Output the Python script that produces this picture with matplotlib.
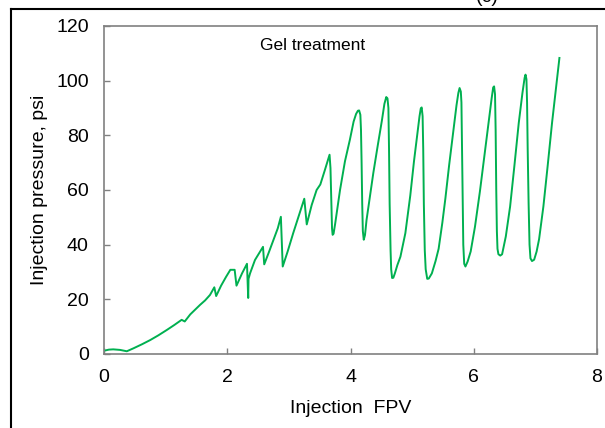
import matplotlib.pyplot as plt
from matplotlib.lines import Line2D

plt.rcParams['font.family'] = ['Liberation Sans', 'DejaVu Sans']

# injection FPV vs injection pressure (psi)
fpv = [0.00, 0.08, 0.15, 0.26, 0.37, 0.48, 0.62, 0.75, 0.88, 1.02,
       1.14, 1.26, 1.31, 1.40, 1.50, 1.56, 1.64, 1.72, 1.79, 1.82,
       1.90, 1.98, 2.05, 2.12, 2.15, 2.24, 2.32, 2.34, 2.345, 2.37,
       2.45, 2.52, 2.58, 2.60, 2.68, 2.75, 2.82, 2.87, 2.90, 2.98,
       3.07, 3.16, 3.25, 3.29, 3.37, 3.45, 3.51, 3.58, 3.64, 3.66,
       3.675, 3.69, 3.70, 3.71, 3.725, 3.75, 3.83, 3.91, 3.99, 4.05,
       4.09, 4.12, 4.14, 4.16, 4.17, 4.18, 4.19, 4.20, 4.215, 4.235,
       4.26, 4.37, 4.44, 4.51, 4.55, 4.58, 4.60, 4.615, 4.625, 4.635,
       4.65, 4.66, 4.675, 4.695, 4.72, 4.76, 4.81, 4.89, 4.94, 4.97,
       5.03, 5.08, 5.12, 5.14, 5.155, 5.17, 5.18, 5.19, 5.205, 5.22,
       5.245, 5.27, 5.32, 5.38, 5.43, 5.49, 5.54, 5.60, 5.66, 5.72,
       5.75, 5.77, 5.79, 5.80, 5.81, 5.82, 5.83, 5.845, 5.865, 5.90,
       5.95, 6.02, 6.10, 6.17, 6.24, 6.29, 6.315, 6.33, 6.345, 6.355,
       6.365, 6.375, 6.385, 6.40, 6.43, 6.46, 6.52, 6.59, 6.66, 6.73,
       6.79, 6.825, 6.84, 6.855, 6.865, 6.875, 6.89, 6.905, 6.92, 6.945,
       6.98, 7.02, 7.06, 7.13, 7.20, 7.27, 7.33, 7.39]
pressure = [1.2, 1.6, 1.7, 1.5, 1.0, 2.1, 3.6, 5.1, 6.8, 8.8,
            10.6, 12.5, 11.9, 14.5, 16.7, 18.0, 19.6, 21.6, 24.4, 21.2,
            25.0, 28.2, 30.8, 30.8, 25.0, 29.5, 33.0, 20.5, 27.5, 29.5,
            34.4, 37.0, 39.2, 32.8, 37.5, 41.8, 46.0, 50.2, 32.0, 37.5,
            44.2, 50.5, 56.8, 47.4, 54.5, 60.0, 62.0, 67.0, 71.5, 72.9,
            68.0, 55.0, 46.0, 43.6, 44.0, 47.5, 60.0, 70.5, 78.4, 85.0,
            87.8, 89.0, 89.1, 87.5, 82.0, 70.0, 55.0, 45.0, 41.8, 43.5,
            49.0, 66.2, 76.0, 85.5, 91.5, 94.0, 93.5, 90.0, 75.0, 55.0,
            38.0, 31.0, 27.8, 27.9, 29.5, 32.5, 35.6, 44.2, 52.7, 58.0,
            70.5, 79.6, 87.0, 89.8, 90.2, 87.0, 75.0, 55.0, 38.0, 31.0,
            27.5, 27.6, 29.5, 34.0, 38.5, 48.0, 57.0, 69.0, 80.0, 91.0,
            95.5, 97.3, 96.0, 92.0, 75.0, 55.0, 40.0, 33.0, 32.0, 33.8,
            37.5, 46.6, 59.5, 72.0, 84.5, 93.5, 97.5, 97.9, 95.0, 82.0,
            60.0, 45.0, 38.5, 36.5, 36.0, 36.5, 43.0, 54.0, 69.0, 84.5,
            95.5, 101.0, 102.2, 100.5, 92.0, 75.0, 55.0, 40.0, 35.0, 34.0,
            34.5, 37.5, 42.0, 54.0, 69.0, 84.5, 96.5, 108.3]

xticks = [0, 2, 4, 6, 8]
yticks = [0, 20, 40, 60, 80, 100, 120]

fig = plt.figure(figsize=(6.05, 4.28), dpi=100)
ax = fig.add_axes([0.1719, 0.1729, 0.8149, 0.7664])

ax.plot(fpv, pressure, color='#00B050', lw=1.4)

ax.set_xlim(0, 8)
ax.set_ylim(0, 120)
ax.set_xticks(xticks)
ax.set_yticks(yticks)
ax.tick_params(direction='in', length=4, width=1, color='#808080',
               labelsize=14, pad=11)
for s in ax.spines.values():
    s.set_color('#808080')
    s.set_linewidth(1.2)

ax.set_xlabel('Injection  FPV', fontsize=14, labelpad=10)
ax.set_ylabel('Injection pressure, psi', fontsize=14, labelpad=6)
ax.text(3.39, 113, 'Gel treatment', fontsize=12.5, ha='center', va='center')

# outer frame of the panel and the clipped panel letter
fig.add_artist(Line2D([0.018, 0.018], [0, 0.980], color='black', lw=1.5,
                      transform=fig.transFigure))
fig.add_artist(Line2D([0.018, 1.0], [0.980, 0.980], color='black', lw=1.5,
                      transform=fig.transFigure))
fig.text(0.805, 1 - 2 / 428, '(c)', fontsize=14, ha='center', va='baseline')

fig.savefig('out.png', dpi=100)
